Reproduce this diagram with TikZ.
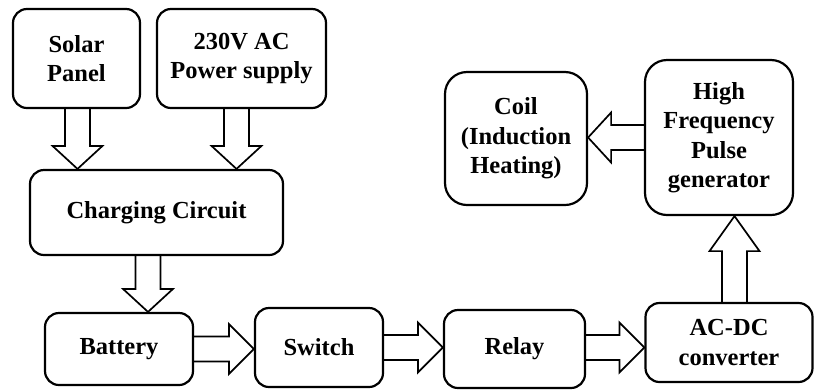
\documentclass[tikz,border=0pt]{standalone}
\usepackage{fontspec}
\setmainfont{Liberation Serif}
\usetikzlibrary{calc}
\tikzset{
  box/.style={draw, line width=2.2bp, rounded corners=14bp, align=center,
    font=\fontsize{24.5bp}{29.5bp}\selectfont\bfseries, inner sep=0pt},
  bigbox/.style={box, rounded corners=22bp},
  arrowline/.style={draw, line width=1.7bp, line join=miter}
}
\newcommand\blockarrow[3][23bp]{%
  \draw[arrowline] let \p1=(#2), \p2=(#3),
    \n1={atan2(\y2-\y1,\x2-\x1)}, \n2={\n1+90}, \n3={\n1-90}, \n4={\n1+180} in
    ($(\p1)+(\n2:12.5bp)$) -- ($(\p2)+(\n4:#1)+(\n2:12.5bp)$) --
    ($(\p2)+(\n4:#1)+(\n2:25bp)$) -- (\p2) --
    ($(\p2)+(\n4:#1)+(\n3:25bp)$) -- ($(\p2)+(\n4:#1)+(\n3:12.5bp)$) --
    ($(\p1)+(\n3:12.5bp)$);}
\begin{document}
\begin{tikzpicture}[x=1bp,y=-1bp]
\useasboundingbox (0,0) rectangle (814,390);
\node[box, minimum width=127bp, minimum height=99bp] (solar) at (76.5,58.5) {Solar\\Panel};
\node[box, minimum width=169bp, minimum height=99bp] (power) at (241.5,58.5) {230V AC\\Power supply};
\node[box, minimum width=253bp, minimum height=85bp] (charging) at (156.5,212.5) {Charging Circuit};
\node[box, minimum width=148bp, minimum height=72bp] (battery) at (119,349) {Battery};
\node[box, minimum width=128bp, minimum height=79bp] (switch) at (319,347.5) {Switch};
\node[box, minimum width=141bp, minimum height=78bp] (relay) at (514.5,349) {Relay};
\node[box, minimum width=167bp, minimum height=79bp] (acdc) at (729,342.5) {AC-DC\\converter};
\node[bigbox, minimum width=142bp, minimum height=133bp] (coil) at (516,138.5) {Coil\\(Induction\\Heating)};
\node[bigbox, minimum width=148bp, minimum height=155bp] (hf) at (719,137.5) {High\\Frequency\\Pulse\\generator};

\coordinate (a1) at ([xshift=1bp]solar.south);
\coordinate (a2) at ([xshift=-5bp]power.south);
\coordinate (a3) at ([xshift=-8.5bp]charging.south);
\coordinate (a4) at ([yshift=1.5bp]relay.east);
\coordinate (a5) at ([xshift=5.5bp]acdc.north);

\blockarrow{a1}{a1 |- charging.north}
\blockarrow{a2}{a2 |- charging.north}
\blockarrow{a3}{a3 |- battery.north}
\blockarrow[25bp]{battery.east}{battery.east -| switch.west}
\blockarrow[25bp]{switch.east}{switch.east -| relay.west}
\blockarrow[25bp]{a4}{a4 -| acdc.west}
\blockarrow[35bp]{a5}{a5 |- hf.south}
\blockarrow{hf.west}{hf.west -| coil.east}
\end{tikzpicture}
\end{document}
